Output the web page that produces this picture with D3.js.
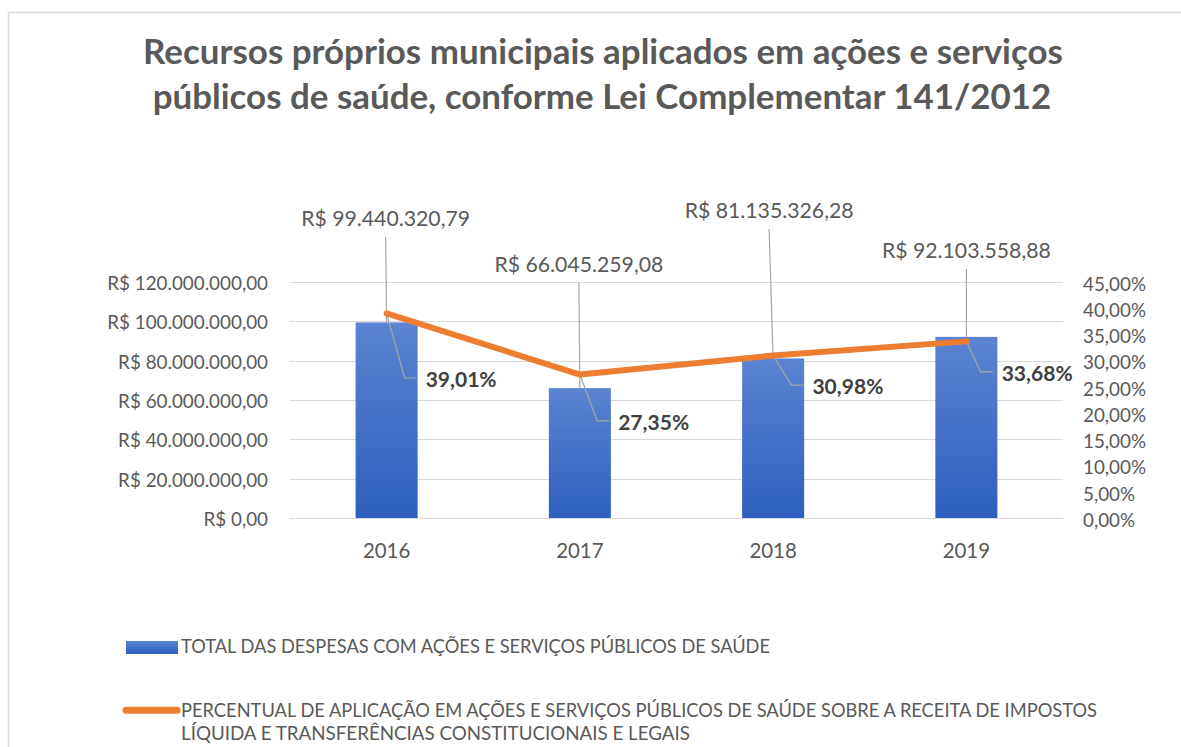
<!DOCTYPE html>
<html>
<head>
<meta charset="utf-8">
<script src="https://cdn.jsdelivr.net/npm/d3@7"></script>
<style>
  html, body { margin: 0; padding: 0; background: #fff; }
  svg { display: block; font-family: Lato, "Open Sans", sans-serif; }
</style>
</head>
<body>
<svg id="chart" width="1181" height="747"></svg>
<script>
// ---- data ----
const years = ["2016", "2017", "2018", "2019"];
const despesas = [99440320.79, 66045259.08, 81135326.28, 92103558.88];
const percentuais = [39.01, 27.35, 30.98, 33.68];
const leftTicks = [0, 20000000, 40000000, 60000000, 80000000, 100000000, 120000000];
const rightTicks = [0, 5, 10, 15, 20, 25, 30, 35, 40, 45];
const titleLines = [
  "Recursos próprios municipais aplicados em ações e serviços",
  "públicos de saúde, conforme Lei Complementar 141/2012"
];
const legendBar = "TOTAL DAS DESPESAS COM AÇÕES E SERVIÇOS PÚBLICOS DE SAÚDE";
const legendLine = [
  "PERCENTUAL DE APLICAÇÃO EM AÇÕES E SERVIÇOS PÚBLICOS DE SAÚDE SOBRE A RECEITA DE IMPOSTOS",
  "LÍQUIDA E TRANSFERÊNCIAS CONSTITUCIONAIS E LEGAIS"
];
// manual label placement (pixel offsets, as positioned in the original)
const valueLabelBaseline = [226, 271.7, 218, 258];
const valueLabelDx = [-1, -1, -4, 0];
const pctLabelOffset = [[39, 73.6], [38.3, 55.4], [39.3, 38.5], [35.3, 39.6]];

// ---- setup ----
const locale = d3.formatLocale({decimal: ",", thousands: ".", grouping: [3], currency: ["R$ ", ""]});
const fmtMoney = locale.format("$,.2f");
const fmtPct = v => locale.format(",.2f")(v) + "%";

const svg = d3.select("#chart");
const W = 1181, H = 747;
const plot = {left: 290, right: 1063, top: 282, bottom: 518};

const x = d3.scaleBand().domain(years).range([plot.left, plot.right]).paddingInner(0.679).paddingOuter(0.3395);
const yL = d3.scaleLinear().domain([0, 120000000]).range([plot.bottom, plot.top]);
const yR = d3.scaleLinear().domain([0, 45]).range([plot.bottom, plot.top]);
const cx = d => x(d) + x.bandwidth() / 2;

function fit(sel, target, base) {
  sel.style("font-size", base + "px");
  const w = sel.node().getComputedTextLength();
  const s = base * target / w;
  sel.style("font-size", s + "px");
  return s;
}

// border
svg.append("rect").attr("x", 8.5).attr("y", 12.5).attr("width", W + 20).attr("height", H + 20)
  .attr("fill", "#fff").attr("stroke", "#d9d9d9").attr("stroke-width", 1.5);

// defs
const defs = svg.append("defs");
const grad = defs.append("linearGradient").attr("id", "barGrad").attr("x1", 0).attr("y1", 0).attr("x2", 0).attr("y2", 1);
grad.append("stop").attr("offset", "0%").attr("stop-color", "#5b84d2");
grad.append("stop").attr("offset", "100%").attr("stop-color", "#2d5fbe");

// title
const tg = svg.append("g").attr("fill", "#595959").attr("font-weight", "bold").attr("text-anchor", "middle");
const t1 = tg.append("text").attr("x", 603).attr("y", 64).text(titleLines[0]);
const ts = fit(t1, 920, 28);
tg.append("text").attr("x", 602).attr("y", 109).style("font-size", ts + "px").text(titleLines[1]);

// gridlines
svg.append("g").selectAll("line").data(leftTicks).join("line")
  .attr("x1", plot.left).attr("x2", plot.right)
  .attr("y1", d => Math.round(yL(d)) + 0.5).attr("y2", d => Math.round(yL(d)) + 0.5)
  .attr("stroke", "#d9d9d9").attr("stroke-width", 1);

// left axis
const leftAxis = d3.axisLeft(yL).tickValues(leftTicks).tickFormat(fmtMoney).tickSize(0).tickPadding(0);
const gl = svg.append("g").attr("transform", `translate(268,0)`).call(leftAxis);
gl.select(".domain").remove();
gl.selectAll("text").attr("fill", "#595959").attr("font-family", "Lato, sans-serif").attr("dy", "0.4em");
const lsz = fit(gl.selectAll("text").filter(d => d === 120000000), 161, 18);
gl.selectAll("text").style("font-size", lsz + "px");

// right axis
const rightAxis = d3.axisRight(yR).tickValues(rightTicks).tickFormat(d => fmtPct(d)).tickSize(0).tickPadding(0);
const gr = svg.append("g").attr("transform", `translate(1083,1.5)`).call(rightAxis);
gr.select(".domain").remove();
gr.selectAll("text").attr("fill", "#595959").attr("font-family", "Lato, sans-serif").attr("dy", "0.36em");
const rsz = fit(gr.selectAll("text").filter(d => d === 45), 63, 18);
gr.selectAll("text").style("font-size", rsz + "px");

// bottom axis labels
const bottomAxis = d3.axisBottom(x).tickSize(0).tickPadding(0);
const gb = svg.append("g").attr("transform", `translate(0,541)`).call(bottomAxis);
gb.select(".domain").remove();
gb.selectAll("text").attr("fill", "#595959").attr("font-family", "Lato, sans-serif").attr("dy", "0").attr("y", 17.3);
const bsz = fit(gb.selectAll("text").filter(d => d === "2016"), 47.5, 20);
gb.selectAll("text").style("font-size", bsz + "px");

// bars
svg.append("g").selectAll("rect").data(years).join("rect")
  .attr("x", d => x(d)).attr("width", x.bandwidth())
  .attr("y", (d, i) => yL(despesas[i])).attr("height", (d, i) => yL(0) - yL(despesas[i]))
  .attr("fill", "url(#barGrad)");

// leader lines
const lead = svg.append("g").attr("stroke", "#a6a6a6").attr("stroke-width", 1.2).attr("fill", "none");
years.forEach((d, i) => {
  const lx = cx(d) + valueLabelDx[i];
  lead.append("path").attr("d", d3.line()([[lx, valueLabelBaseline[i] + 11], [cx(d), yL(despesas[i])]]));
  const px = cx(d), py = yR(percentuais[i]);
  const lx2 = px + pctLabelOffset[i][0], by = py + pctLabelOffset[i][1];
  lead.append("path").attr("d", d3.line()([[px, py], [lx2 - 21, by - 9], [lx2 - 9, by - 9]]));
});

// line series
svg.append("path")
  .datum(years)
  .attr("d", d3.line().x(d => cx(d)).y((d, i) => yR(percentuais[i])))
  .attr("fill", "none").attr("stroke", "#ed7d31").attr("stroke-width", 6)
  .attr("stroke-linecap", "round").attr("stroke-linejoin", "round");

// value labels
const vl = svg.append("g").attr("fill", "#595959").attr("text-anchor", "middle");
const vtexts = vl.selectAll("text").data(years).join("text")
  .attr("x", (d, i) => cx(d) + valueLabelDx[i]).attr("y", (d, i) => valueLabelBaseline[i])
  .text((d, i) => fmtMoney(despesas[i]));
const vsz = fit(vtexts.filter((d, i) => i === 0), 169, 20);
vtexts.style("font-size", vsz + "px");

// pct labels
const pl = svg.append("g").attr("fill", "#404040").attr("font-weight", "bold");
const ptexts = pl.selectAll("text").data(years).join("text")
  .attr("x", (d, i) => cx(d) + pctLabelOffset[i][0])
  .attr("y", (d, i) => yR(percentuais[i]) + pctLabelOffset[i][1])
  .text((d, i) => fmtPct(percentuais[i]));
const psz = fit(ptexts.filter((d, i) => i === 0), 71, 20);
ptexts.style("font-size", psz + "px");

// legend (condensed text, as in the original)
const lg = svg.append("g").attr("fill", "#595959").style("font-size", "19px");
lg.append("rect").attr("x", 126).attr("y", 641).attr("width", 52).attr("height", 13).attr("fill", "url(#barGrad)");
lg.append("text").attr("x", 181).attr("y", 653.3)
  .attr("textLength", 589).attr("lengthAdjust", "spacingAndGlyphs").text(legendBar);
lg.append("line").attr("x1", 126).attr("x2", 177).attr("y1", 710.3).attr("y2", 710.3)
  .attr("stroke", "#ed7d31").attr("stroke-width", 7).attr("stroke-linecap", "round");
lg.append("text").attr("x", 181).attr("y", 716.7)
  .attr("textLength", 916).attr("lengthAdjust", "spacingAndGlyphs").text(legendLine[0]);
lg.append("text").attr("x", 181).attr("y", 740)
  .attr("textLength", 509).attr("lengthAdjust", "spacingAndGlyphs").text(legendLine[1]);
</script>
</body>
</html>
